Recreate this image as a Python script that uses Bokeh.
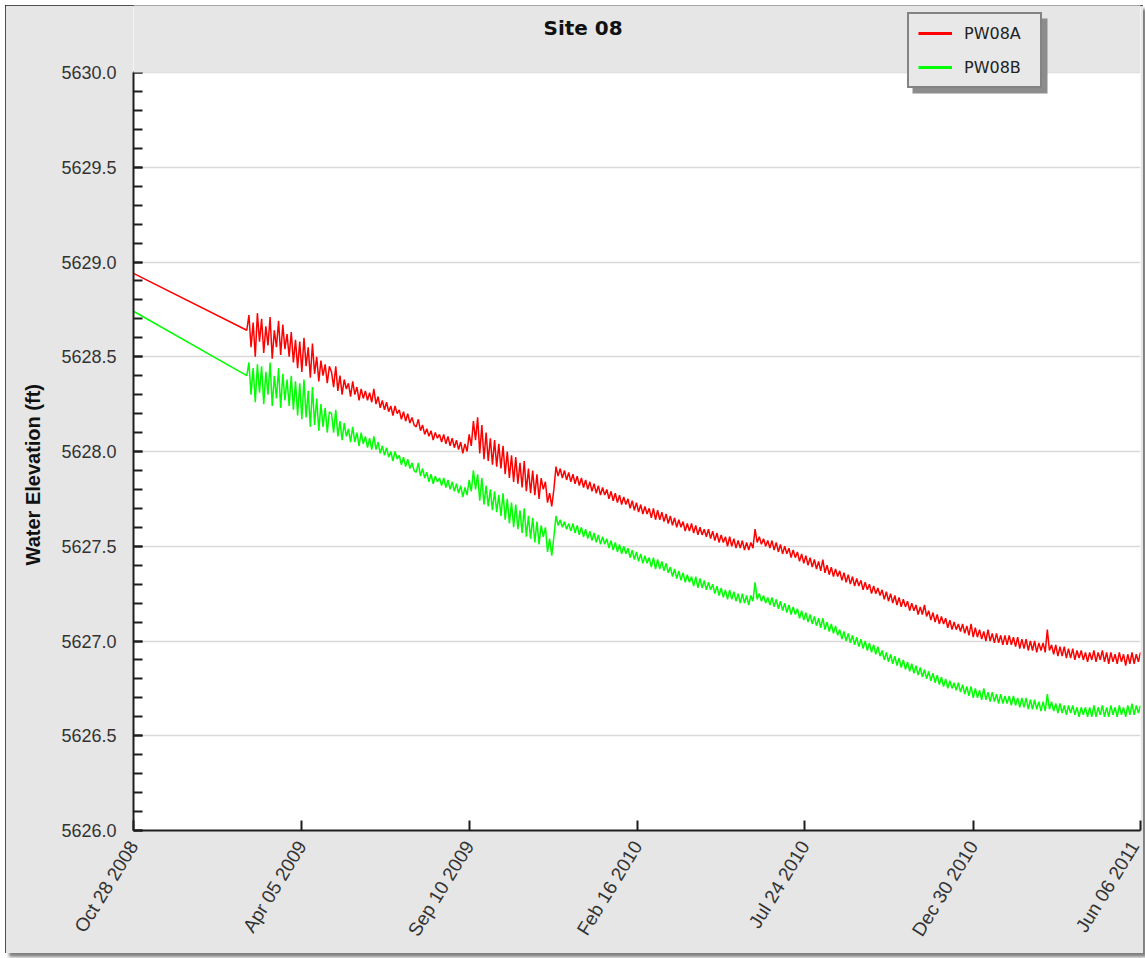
import pandas as pd
from bokeh.plotting import figure
from bokeh.models import (Range1d, FixedTicker, DatetimeTickFormatter, NumeralTickFormatter,
                          SingleIntervalTicker, Legend, LegendItem, Title, Label,
                          BoxAnnotation, ColumnDataSource)
from bokeh.embed import file_html
from bokeh.resources import INLINE

# ---------------- data ----------------
title_text = "Site 08"
y_label = "Water Elevation (ft)"
series_names = ["PW08A", "PW08B"]
series_colors = ["#ff0000", "#00ff00"]
tick_dates = ["2008-10-28", "2009-04-05", "2009-09-10", "2010-02-16",
              "2010-07-24", "2010-12-30", "2011-06-06"]
first_date = "2008-10-28"      # first reading, then a gap until the logger record
record_start = "2009-02-12"    # logger record, one sample every 2 days
record_step = "2D"

pw08a_first = 5628.94
pw08b_first = 5628.74

pw08a = [
    5628.64, 5628.72, 5628.55, 5628.68, 5628.50, 5628.73, 5628.58, 5628.70, 5628.52, 5628.66,
    5628.56, 5628.71, 5628.49, 5628.64, 5628.55, 5628.69, 5628.51, 5628.67, 5628.54, 5628.62,
    5628.50, 5628.63, 5628.47, 5628.59, 5628.44, 5628.58, 5628.42, 5628.60, 5628.45, 5628.55,
    5628.39, 5628.57, 5628.41, 5628.50, 5628.37, 5628.48, 5628.40, 5628.46, 5628.36, 5628.45,
    5628.42, 5628.34, 5628.45, 5628.32, 5628.40, 5628.30, 5628.38, 5628.33, 5628.36, 5628.29,
    5628.37, 5628.30, 5628.34, 5628.27, 5628.33, 5628.28, 5628.32, 5628.27, 5628.31, 5628.26,
    5628.33, 5628.25, 5628.29, 5628.23, 5628.27, 5628.22, 5628.26, 5628.21, 5628.24, 5628.19,
    5628.24, 5628.20, 5628.22, 5628.17, 5628.21, 5628.16, 5628.20, 5628.15, 5628.18, 5628.14,
    5628.13, 5628.17, 5628.11, 5628.14, 5628.09, 5628.12, 5628.08, 5628.11, 5628.06, 5628.10,
    5628.07, 5628.09, 5628.05, 5628.09, 5628.04, 5628.08, 5628.03, 5628.07, 5628.02, 5628.06,
    5628.01, 5628.05, 5627.99, 5628.04, 5628.00, 5628.09, 5628.03, 5628.16, 5628.06, 5628.18,
    5627.99, 5628.14, 5627.96, 5628.10, 5627.95, 5628.07, 5627.93, 5628.06, 5627.92, 5628.04,
    5627.91, 5628.03, 5627.88, 5628.00, 5627.86, 5627.98, 5627.84, 5627.97, 5627.83, 5627.94,
    5627.81, 5627.95, 5627.79, 5627.91, 5627.78, 5627.90, 5627.77, 5627.88, 5627.75, 5627.86,
    5627.80, 5627.84, 5627.73, 5627.78, 5627.71, 5627.80, 5627.92, 5627.87, 5627.91, 5627.86,
    5627.90, 5627.85, 5627.89, 5627.84, 5627.88, 5627.83, 5627.87, 5627.82, 5627.86, 5627.81,
    5627.85, 5627.80, 5627.84, 5627.79, 5627.83, 5627.78, 5627.82, 5627.77, 5627.81, 5627.77,
    5627.80, 5627.75, 5627.79, 5627.74, 5627.78, 5627.73, 5627.77, 5627.72, 5627.76, 5627.72,
    5627.75, 5627.70, 5627.74, 5627.69, 5627.73, 5627.68, 5627.72, 5627.67, 5627.71, 5627.67,
    5627.70, 5627.65, 5627.70, 5627.64, 5627.69, 5627.64, 5627.68, 5627.63, 5627.67, 5627.62,
    5627.66, 5627.61, 5627.65, 5627.60, 5627.64, 5627.60, 5627.63, 5627.58, 5627.62, 5627.58,
    5627.62, 5627.57, 5627.61, 5627.56, 5627.60, 5627.56, 5627.59, 5627.55, 5627.59, 5627.54,
    5627.58, 5627.53, 5627.57, 5627.52, 5627.56, 5627.52, 5627.55, 5627.50, 5627.55, 5627.50,
    5627.54, 5627.49, 5627.53, 5627.49, 5627.53, 5627.48, 5627.52, 5627.48, 5627.52, 5627.49,
    5627.59, 5627.52, 5627.55, 5627.51, 5627.54, 5627.50, 5627.53, 5627.49, 5627.53, 5627.48,
    5627.52, 5627.47, 5627.51, 5627.46, 5627.50, 5627.46, 5627.49, 5627.44, 5627.48, 5627.44,
    5627.47, 5627.42, 5627.46, 5627.41, 5627.45, 5627.40, 5627.44, 5627.39, 5627.43, 5627.38,
    5627.42, 5627.37, 5627.43, 5627.36, 5627.40, 5627.35, 5627.39, 5627.34, 5627.38, 5627.34,
    5627.37, 5627.32, 5627.36, 5627.31, 5627.35, 5627.30, 5627.34, 5627.29, 5627.33, 5627.29,
    5627.32, 5627.27, 5627.31, 5627.27, 5627.30, 5627.25, 5627.29, 5627.25, 5627.28, 5627.24,
    5627.27, 5627.22, 5627.26, 5627.21, 5627.25, 5627.20, 5627.24, 5627.19, 5627.23, 5627.18,
    5627.22, 5627.18, 5627.21, 5627.16, 5627.20, 5627.16, 5627.19, 5627.14, 5627.18, 5627.14,
    5627.19, 5627.13, 5627.16, 5627.11, 5627.15, 5627.10, 5627.14, 5627.09, 5627.13, 5627.09,
    5627.12, 5627.07, 5627.11, 5627.06, 5627.10, 5627.06, 5627.09, 5627.05, 5627.09, 5627.04,
    5627.08, 5627.03, 5627.09, 5627.02, 5627.07, 5627.02, 5627.06, 5627.01, 5627.05, 5627.00,
    5627.06, 5627.00, 5627.04, 5626.99, 5627.04, 5626.99, 5627.03, 5626.98, 5627.03, 5626.98,
    5627.03, 5626.98, 5627.02, 5626.97, 5627.02, 5626.96, 5627.01, 5626.96, 5627.01, 5626.95,
    5627.00, 5626.95, 5627.00, 5626.94, 5626.99, 5626.95, 5626.99, 5626.94, 5627.06, 5626.95,
    5626.98, 5626.93, 5626.98, 5626.92, 5626.97, 5626.92, 5626.97, 5626.91, 5626.96, 5626.91,
    5626.96, 5626.90, 5626.95, 5626.91, 5626.95, 5626.90, 5626.94, 5626.89, 5626.94, 5626.90,
    5626.95, 5626.89, 5626.94, 5626.90, 5626.95, 5626.89, 5626.94, 5626.88, 5626.94, 5626.89,
    5626.93, 5626.88, 5626.94, 5626.89, 5626.93, 5626.87, 5626.93, 5626.88, 5626.94, 5626.88,
    5626.93, 5626.89, 5626.94,
]

pw08b = [
    5628.40, 5628.47, 5628.30, 5628.44, 5628.26, 5628.46, 5628.31, 5628.45, 5628.25, 5628.42,
    5628.30, 5628.47, 5628.24, 5628.40, 5628.28, 5628.44, 5628.23, 5628.41, 5628.27, 5628.38,
    5628.24, 5628.40, 5628.22, 5628.37, 5628.19, 5628.36, 5628.17, 5628.38, 5628.18, 5628.32,
    5628.13, 5628.34, 5628.14, 5628.28, 5628.11, 5628.25, 5628.13, 5628.23, 5628.10, 5628.21,
    5628.20, 5628.10, 5628.22, 5628.08, 5628.16, 5628.06, 5628.15, 5628.08, 5628.12, 5628.05,
    5628.13, 5628.05, 5628.10, 5628.03, 5628.10, 5628.04, 5628.08, 5628.02, 5628.07, 5628.01,
    5628.08, 5628.01, 5628.05, 5627.99, 5628.03, 5627.98, 5628.02, 5627.97, 5628.00, 5627.95,
    5628.00, 5627.96, 5627.98, 5627.93, 5627.97, 5627.92, 5627.96, 5627.91, 5627.94, 5627.90,
    5627.89, 5627.94, 5627.87, 5627.91, 5627.86, 5627.89, 5627.84, 5627.88, 5627.83, 5627.87,
    5627.84, 5627.86, 5627.82, 5627.86, 5627.81, 5627.85, 5627.80, 5627.84, 5627.79, 5627.83,
    5627.78, 5627.82, 5627.76, 5627.81, 5627.77, 5627.85, 5627.79, 5627.90, 5627.80, 5627.88,
    5627.74, 5627.86, 5627.72, 5627.82, 5627.71, 5627.80, 5627.69, 5627.79, 5627.68, 5627.77,
    5627.66, 5627.78, 5627.64, 5627.75, 5627.62, 5627.73, 5627.60, 5627.72, 5627.59, 5627.69,
    5627.57, 5627.70, 5627.55, 5627.66, 5627.54, 5627.65, 5627.52, 5627.63, 5627.51, 5627.61,
    5627.55, 5627.60, 5627.47, 5627.54, 5627.45, 5627.55, 5627.66, 5627.61, 5627.64, 5627.60,
    5627.63, 5627.59, 5627.62, 5627.58, 5627.62, 5627.57, 5627.61, 5627.56, 5627.60, 5627.55,
    5627.59, 5627.54, 5627.58, 5627.53, 5627.57, 5627.52, 5627.56, 5627.51, 5627.55, 5627.51,
    5627.54, 5627.49, 5627.53, 5627.48, 5627.52, 5627.47, 5627.51, 5627.46, 5627.50, 5627.46,
    5627.49, 5627.44, 5627.48, 5627.43, 5627.47, 5627.42, 5627.46, 5627.41, 5627.45, 5627.41,
    5627.44, 5627.39, 5627.44, 5627.38, 5627.43, 5627.38, 5627.42, 5627.37, 5627.41, 5627.36,
    5627.39, 5627.34, 5627.38, 5627.33, 5627.37, 5627.32, 5627.36, 5627.31, 5627.35, 5627.31,
    5627.34, 5627.29, 5627.34, 5627.28, 5627.33, 5627.28, 5627.32, 5627.27, 5627.31, 5627.27,
    5627.30, 5627.25, 5627.29, 5627.24, 5627.28, 5627.23, 5627.27, 5627.22, 5627.27, 5627.22,
    5627.26, 5627.21, 5627.25, 5627.20, 5627.25, 5627.20, 5627.24, 5627.19, 5627.24, 5627.21,
    5627.31, 5627.22, 5627.25, 5627.21, 5627.24, 5627.20, 5627.23, 5627.19, 5627.23, 5627.18,
    5627.22, 5627.17, 5627.21, 5627.16, 5627.20, 5627.15, 5627.19, 5627.14, 5627.18, 5627.14,
    5627.17, 5627.12, 5627.16, 5627.11, 5627.15, 5627.10, 5627.14, 5627.09, 5627.13, 5627.08,
    5627.12, 5627.07, 5627.12, 5627.06, 5627.10, 5627.05, 5627.09, 5627.04, 5627.08, 5627.03,
    5627.06, 5627.01, 5627.05, 5627.00, 5627.04, 5626.99, 5627.03, 5626.98, 5627.02, 5626.97,
    5627.01, 5626.96, 5627.00, 5626.95, 5626.99, 5626.94, 5626.98, 5626.93, 5626.97, 5626.92,
    5626.95, 5626.90, 5626.94, 5626.89, 5626.93, 5626.88, 5626.92, 5626.87, 5626.91, 5626.86,
    5626.90, 5626.85, 5626.89, 5626.84, 5626.88, 5626.83, 5626.87, 5626.82, 5626.86, 5626.81,
    5626.85, 5626.80, 5626.84, 5626.79, 5626.83, 5626.78, 5626.82, 5626.77, 5626.81, 5626.76,
    5626.80, 5626.75, 5626.79, 5626.75, 5626.78, 5626.74, 5626.78, 5626.73, 5626.77, 5626.72,
    5626.76, 5626.71, 5626.76, 5626.70, 5626.75, 5626.70, 5626.74, 5626.69, 5626.75, 5626.69,
    5626.73, 5626.68, 5626.73, 5626.68, 5626.72, 5626.67, 5626.72, 5626.67, 5626.71, 5626.67,
    5626.71, 5626.66, 5626.71, 5626.66, 5626.70, 5626.65, 5626.70, 5626.65, 5626.70, 5626.64,
    5626.69, 5626.64, 5626.69, 5626.64, 5626.68, 5626.63, 5626.68, 5626.63, 5626.72, 5626.64,
    5626.68, 5626.63, 5626.67, 5626.62, 5626.67, 5626.62, 5626.66, 5626.61, 5626.66, 5626.62,
    5626.66, 5626.61, 5626.65, 5626.60, 5626.65, 5626.61, 5626.65, 5626.60, 5626.65, 5626.60,
    5626.66, 5626.60, 5626.65, 5626.61, 5626.66, 5626.60, 5626.65, 5626.60, 5626.66, 5626.61,
    5626.65, 5626.60, 5626.66, 5626.61, 5626.65, 5626.60, 5626.66, 5626.61, 5626.67, 5626.61,
    5626.66, 5626.62, 5626.66,
]

y_min, y_max = 5626.0, 5630.0

# ---------------- geometry (pixels) ----------------
FIG_W, FIG_H = 1138, 948
B_LEFT, B_RIGHT, B_BOTTOM = 128, 3, 123
frame_h = FIG_H - B_BOTTOM                 # frame reaches the top of the canvas
px_per_ft = (frame_h - 67) / (y_max - y_min)
y_top = y_max + 67 / px_per_ft            # grey header band above the plot area

# ---------------- build ----------------
dates = [pd.Timestamp(first_date)] + list(pd.date_range(record_start, periods=len(pw08a), freq=record_step))
src_a = ColumnDataSource(data=dict(x=dates, y=[pw08a_first] + pw08a))
src_b = ColumnDataSource(data=dict(x=dates, y=[pw08b_first] + pw08b))

p = figure(width=FIG_W, height=FIG_H, x_axis_type="datetime", title=None,
           x_range=Range1d(pd.Timestamp(tick_dates[0]), pd.Timestamp(tick_dates[-1])),
           y_range=Range1d(y_min, y_top),
           output_backend="svg", toolbar_location=None,
           min_border_left=B_LEFT, min_border_right=B_RIGHT, min_border_top=0,
           min_border_bottom=B_BOTTOM)

p.border_fill_color = "#e6e6e6"
p.background_fill_color = "#ffffff"
p.outline_line_color = None
p.styles = {"margin-left": "5px", "margin-top": "5px",
            "outline": "2px solid #1e1e1e", "outline-offset": "-2px",
            "box-shadow": "4px 4px 3px #808080"}

# grey header band above the plot area
p.add_layout(BoxAnnotation(bottom=y_max, fill_color="#e6e6e6", fill_alpha=1.0,
                           line_color=None))

# lines
ra = p.line("x", "y", source=src_a, line_color=series_colors[0], line_width=1.5)
rb = p.line("x", "y", source=src_b, line_color=series_colors[1], line_width=1.5)

# axes
tick_ms = [pd.Timestamp(d).value / 1e6 for d in tick_dates]
xa = p.xaxis[0]
xa.ticker = FixedTicker(ticks=tick_ms, minor_ticks=[])
fmt = "%b %d %Y"
xa.formatter = DatetimeTickFormatter(microseconds=fmt, milliseconds=fmt, seconds=fmt, minsec=fmt,
                                     minutes=fmt, hourmin=fmt, hours=fmt, days=fmt,
                                     months=fmt, years=fmt)
xa.major_label_orientation = 1.02
ya = p.yaxis[0]
ya.ticker = SingleIntervalTicker(interval=0.5, num_minor_ticks=5)
ya.formatter = NumeralTickFormatter(format="0.0")
ya.bounds = (y_min, y_max)

for ax in (xa, ya):
    ax.axis_line_color = "#1e1e1e"
    ax.axis_line_width = 2
    ax.major_tick_line_color = "#1e1e1e"
    ax.major_tick_line_width = 2
    ax.minor_tick_line_color = "#1e1e1e"
    ax.minor_tick_line_width = 2
    ax.major_tick_out = 0
    ax.minor_tick_out = 0
    ax.major_label_text_font = "Liberation Sans"
    ax.major_label_text_color = "#333333"
xa.major_label_text_font_size = "19px"
ya.major_label_text_font_size = "18px"
xa.major_label_standoff = 12
ya.major_label_standoff = 17
xa.major_tick_in = 10
xa.minor_tick_in = 0
ya.major_tick_in = 9
ya.minor_tick_in = 9

ylab = Title(text=y_label, align="left", vertical_align="top", offset=265,
             text_font="Liberation Sans", text_font_style="bold", text_font_size="20px",
             text_color="#111111", standoff=26)
p.add_layout(ylab, "left")

p.xgrid.visible = False
p.ygrid.grid_line_color = "#d9d9d9"
p.ygrid.grid_line_width = 1.5

# title as a label inside the grey header band
p.add_layout(Label(x=410, y=frame_h - 22, x_units="screen", y_units="screen", text=title_text,
                   text_font="DejaVu Sans", text_font_style="bold", text_font_size="20px",
                   text_color="#111111", text_align="left", text_baseline="middle"))

# legend drop shadow (screen units, relative to the plot frame)
LEG_X, LEG_Y, LEG_W, LEG_H = 774, 742, 135, 75
p.add_layout(BoxAnnotation(left=LEG_X + 5, right=LEG_X + 5 + LEG_W,
                           bottom=LEG_Y - 5, top=LEG_Y - 5 + LEG_H,
                           left_units="screen", right_units="screen",
                           top_units="screen", bottom_units="screen",
                           fill_color="#8c8c8c", fill_alpha=1.0, line_color=None))

# legend; the swatch renderers hold a single blank point
nan = float("nan")
dummy = dict(x=[pd.Timestamp(first_date)], y=[nan])
la = p.line("x", "y", source=ColumnDataSource(data=dummy), line_color=series_colors[0], line_width=3)
lb = p.line("x", "y", source=ColumnDataSource(data=dummy), line_color=series_colors[1], line_width=3)

legend = Legend(items=[LegendItem(label=series_names[0], renderers=[la]),
                       LegendItem(label=series_names[1], renderers=[lb])],
                location=(LEG_X, LEG_Y), padding=9, spacing=14, glyph_width=34, glyph_height=20,
                label_height=20, label_width=67, label_standoff=12,
                label_text_font="DejaVu Sans", label_text_font_size="16px",
                border_line_width=2, border_line_color="#1e1e1e",
                background_fill_color="#e8e8e8", background_fill_alpha=1.0,
                label_text_color="#222222")
p.add_layout(legend, "center")

open("out.html", "w").write(file_html(p, INLINE))
